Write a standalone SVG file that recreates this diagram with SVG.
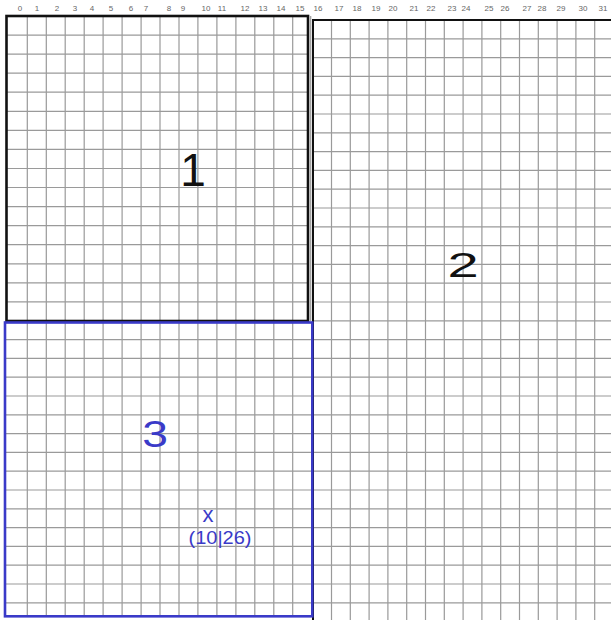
<svg xmlns="http://www.w3.org/2000/svg" width="611" height="620" viewBox="0 0 611 620">
<style>
.grid{fill:none;stroke:#9a9a9a;stroke-width:1.2}
.num{font-family:"Liberation Sans",Arial,sans-serif;font-size:8px;fill:#666;text-anchor:middle}
.big{font-family:"Liberation Sans",Arial,sans-serif;text-anchor:middle}
</style>
<rect width="611" height="620" fill="#fff"/>
<g id="grid">
<path class="grid" d="M27.3 16V616M46.3 16V616M65.2 16V616M84.2 16V616M103.1 16V616M122.1 16V616M141.1 16V616M160 16V616M179 16V616M197.9 16V616M216.9 16V616M235.9 16V616M254.8 16V616M273.8 16V616M292.7 16V616M310.7 16V321"/>
<path class="grid" d="M7 35.1H308M7 54.1H308M7 73.2H308M7 92.2H308M7 111.3H308M7 130.4H308M7 149.4H308M7 168.5H308M7 187.5H308M7 206.6H308M7 225.7H308M7 244.7H308M7 263.8H308M7 282.8H308M7 301.9H308"/>
<path class="grid" d="M5 339.6H312M5 358.4H312M5 377.2H312M5 396H312M5 414.8H312M5 433.6H312M5 452.4H312M5 471.2H312M5 490H312M5 508.8H312M5 527.6H312M5 546.4H312M5 565.2H312M5 584H312M5 602.8H312"/>
<path class="grid" d="M331.5 20V620M350.3 20V620M369.1 20V620M387.9 20V620M406.7 20V620M425.5 20V620M444.3 20V620M463.1 20V620M481.9 20V620M500.7 20V620M519.5 20V620M538.3 20V620M557.1 20V620M575.9 20V620M594.7 20V620"/>
<path class="grid" d="M313 38.8H611M313 57.6H611M313 76.4H611M313 95.2H611M313 114H611M313 132.8H611M313 151.6H611M313 170.4H611M313 189.2H611M313 208H611M313 226.8H611M313 245.6H611M313 264.4H611M313 283.2H611M313 302H611M313 320.8H611M313 339.6H611M313 358.4H611M313 377.2H611M313 396H611M313 414.8H611M313 433.6H611M313 452.4H611M313 471.2H611M313 490H611M313 508.8H611M313 527.6H611M313 546.4H611M313 565.2H611M313 584H611M313 602.8H611"/>
</g>
<g id="numbers">
<text class="num" x="20" y="11">0</text><text class="num" x="37" y="11">1</text><text class="num" x="57" y="11">2</text><text class="num" x="75" y="11">3</text><text class="num" x="92" y="11">4</text><text class="num" x="111" y="11">5</text><text class="num" x="131" y="11">6</text><text class="num" x="146" y="11">7</text><text class="num" x="169" y="11">8</text><text class="num" x="183" y="11">9</text><text class="num" x="206" y="11">10</text><text class="num" x="222" y="11">11</text><text class="num" x="245" y="11">12</text><text class="num" x="263" y="11">13</text><text class="num" x="281" y="11">14</text><text class="num" x="300" y="11">15</text><text class="num" x="318" y="11">16</text><text class="num" x="339" y="11">17</text><text class="num" x="357" y="11">18</text><text class="num" x="376" y="11">19</text><text class="num" x="393" y="11">20</text><text class="num" x="414" y="11">21</text><text class="num" x="431" y="11">22</text><text class="num" x="452" y="11">23</text><text class="num" x="466" y="11">24</text><text class="num" x="489" y="11">25</text><text class="num" x="505" y="11">26</text><text class="num" x="527" y="11">27</text><text class="num" x="542" y="11">28</text><text class="num" x="561" y="11">29</text><text class="num" x="583" y="11">30</text><text class="num" x="603" y="11">31</text>
</g>
<g id="region2">
<path d="M313 620V20H611" fill="none" stroke="#111" stroke-width="2"/>
<text class="big" transform="translate(463 277) scale(1.6 1)" font-size="35" fill="#111">2</text>
</g>
<g id="region1">
<rect x="6.5" y="16" width="301.5" height="305" fill="none" stroke="#111" stroke-width="2.6"/>
<text class="big" x="193" y="186" font-size="46" fill="#111">1</text>
</g>
<g id="region3">
<rect x="5" y="322.5" width="307.3" height="293.8" fill="none" stroke="#3a3ac8" stroke-width="2.6"/>
<text class="big" transform="translate(155 447) scale(1.25 1)" font-size="37" fill="#3a3ac8">3</text>
<text class="big" x="208" y="522" font-size="22" fill="#3a3ac8">x</text>
<text class="big" x="220" y="544" font-size="19" fill="#3a3ac8" textLength="63" lengthAdjust="spacingAndGlyphs">(10|26)</text>
</g>
</svg>
